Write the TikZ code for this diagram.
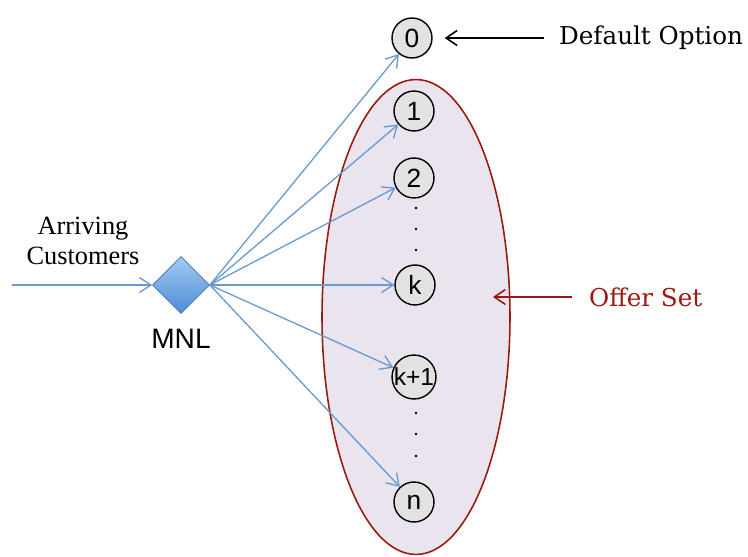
\documentclass[tikz,border=0pt]{standalone}
\usepackage{fontspec}
\setmainfont{Liberation Serif}
\setsansfont{Liberation Sans}
\newfontfamily\slabfont{DejaVu Serif}
\usetikzlibrary{arrows.meta,positioning,shapes.geometric}
\definecolor{optGray}{HTML}{E2E2E2}
\definecolor{setLilac}{HTML}{E9E4EE}
\definecolor{setRed}{HTML}{9A1A12}
\definecolor{flowBlue}{HTML}{6A9AD2}
\definecolor{mnlTop}{HTML}{A4CBF2}
\definecolor{mnlBot}{HTML}{4D8CD6}

\begin{document}
\begin{tikzpicture}[
  x=0.02cm, y=-0.02cm,
  opt/.style={circle, draw, line width=0.8pt, fill=optGray, minimum size=0.8cm, inner sep=0pt, font=\sffamily\fontsize{15}{15}\selectfont},
  flow/.style={-{Straight Barb[length=2.3mm, width=3mm]}, draw=flowBlue, line width=0.75pt},
  note/.style={-{Straight Barb[length=2.2mm, width=3mm]}, line width=0.9pt},
]
\useasboundingbox (0,0) rectangle (748,557);

% offer set
\node[ellipse, draw=setRed, line width=0.9pt, fill=setLilac, minimum width=3.76cm, minimum height=9.5cm] (offer) at (416,317) {};

\node[opt] (o0) at (412,38) {0};
\node[opt] (o1) at (414,111) {1};
\node[opt] (o2) at (414,178) {2};
\node[opt] (ok) at (415,285) {k};
\node[opt, font=\sffamily\fontsize{14}{14}\selectfont] (ok1) at (414,377) {k+1};
\node[opt] (on) at (414,502) {n};
\foreach \y in {208,229,250,413,434,456} {\fill (416,\y) circle (1.4);}

\node[diamond, aspect=1, draw=mnlBot!80!black, line width=0.4pt, top color=mnlTop, bottom color=mnlBot, minimum width=1.14cm, minimum height=1.14cm, inner sep=0pt] (mnl) at (181,285) {};
\node[font=\sffamily\fontsize{16}{16}\selectfont, below=0.18cm of mnl] (mnllab) {MNL};
\coordinate (start) at (12,285);
\node[align=center, font=\fontsize{15}{17}\selectfont] (arr) at (83,241) {Arriving\\Customers};

\draw[flow] (start) -- (mnl.west);
\foreach \t in {o0,o1,o2,ok,ok1,on} {\draw[flow] (mnl.east) -- (\t);}

\node[anchor=west, font=\slabfont\fontsize{14}{16}\selectfont] (deflab) at (553,38) {Default Option};
\draw[note, shorten >=0.24cm] ([xshift=-0.18cm]deflab.west) -- (o0);
\node[anchor=west, text=setRed, font=\slabfont\fontsize{14}{16}\selectfont] (setlab) at (583,297) {Offer Set};
\coordinate (settip) at (493,297);
\draw[note, draw=setRed] ([xshift=-0.22cm]setlab.west) -- (settip);
\end{tikzpicture}
\end{document}
